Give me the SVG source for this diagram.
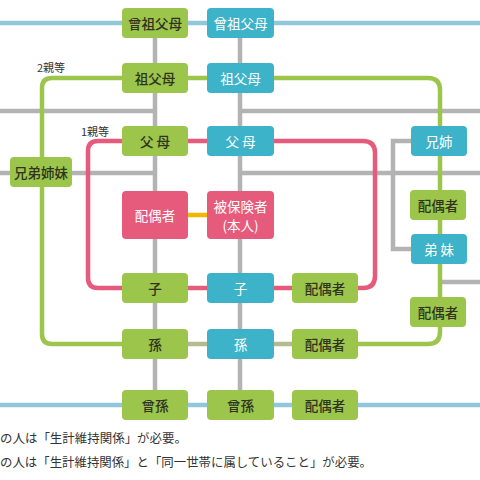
<svg xmlns="http://www.w3.org/2000/svg" width="480" height="480" viewBox="0 0 480 480">
<style>
text{font-family:"Noto Sans CJK JP","Noto Sans",sans-serif;text-anchor:middle;dominant-baseline:central;}
.g{fill:#9cc54b}
.b{fill:#3db3c9}
.p{fill:#e65a7c}
.tg{fill:#2f3320;font-size:13.5px;font-weight:500}
.tw{fill:#ffffff;font-size:13.5px}
.ln{fill:none;stroke-width:4.5;stroke-linecap:butt}
.gray{stroke:#b3b3b3}
.lb{stroke:#92c6da}
.lg{stroke:#9cc54b}
.lp{stroke:#e65a7c}
.ly{stroke:#f2b705}
.lo{stroke:#b2bb8e}
.lbl{font-size:11px;fill:#333;text-anchor:start}
.note{font-size:12.5px;fill:#333;text-anchor:start;dominant-baseline:auto}
</style>
<rect width="480" height="480" fill="#ffffff"/>
<g id="connectors">
<path class="ln lb" d="M0 23 H480"/>
<path class="ln lb" d="M0 405 H480"/>
<path class="ln gray" d="M155 23 V405 M240 23 V405"/>
<path class="ln gray" d="M0 111 H155 M240 111 H480"/>
<path class="ln gray" d="M0 173 H155 M240 173 H480"/>
<path class="ln gray" d="M440 282 H480"/>
<path class="ln gray" d="M411 141 H393 V249 H411"/>
<path class="ln lg" d="M240 78 H52 Q42 78 42 88 V334 Q42 344 52 344 H122"/>
<path class="ln lg" d="M240 78 H428 Q440 78 440 90 V332 Q440 344 428 344 H358"/>
<path class="ln lp" d="M240 141 H98 Q88 141 88 151 V278 Q88 288 98 288 H240"/>
<path class="ln lp" d="M240 141 H363 Q375 141 375 153 V276 Q375 288 363 288 H240"/>
<path class="ln ly" d="M188 215 H207"/>
<path class="ln lo" d="M188 344 H207 M274 344 H292"/>
</g>
<text class="lbl" x="37" y="67">2親等</text>
<text class="lbl" x="81" y="131">1親等</text>
<g id="n-sosofubo-g"><rect class="g" x="122" y="8" width="66" height="30" rx="4"/><text class="tg" x="155" y="23">曾祖父母</text></g>
<g id="n-sosofubo-b"><rect class="b" x="207" y="8" width="67" height="30" rx="4"/><text class="tw" x="240.5" y="23">曾祖父母</text></g>
<g id="n-sofubo-g"><rect class="g" x="122" y="63" width="66" height="30" rx="4"/><text class="tg" x="155" y="78">祖父母</text></g>
<g id="n-sofubo-b"><rect class="b" x="207" y="63" width="67" height="30" rx="4"/><text class="tw" x="240.5" y="78">祖父母</text></g>
<g id="n-fubo-g"><rect class="g" x="122" y="126" width="66" height="30" rx="4"/><text class="tg" x="156.5" y="141" letter-spacing="3">父母</text></g>
<g id="n-fubo-b"><rect class="b" x="207" y="126" width="67" height="30" rx="4"/><text class="tw" x="242" y="141" letter-spacing="3">父母</text></g>
<g id="n-kyodai"><rect class="g" x="10" y="157" width="62" height="30" rx="4"/><text class="tg" x="41" y="172" font-size="13">兄弟姉妹</text></g>
<g id="n-haigusha"><rect class="p" x="122" y="191" width="66" height="48" rx="4"/><text class="tw" x="155" y="215">配偶者</text></g>
<g id="n-honnin"><rect class="p" x="207" y="191" width="67" height="48" rx="4"/><text class="tw" x="240.5" y="206">被保険者</text><text class="tw" x="240.5" y="225">(本人)</text></g>
<g id="n-ko-g"><rect class="g" x="122" y="273" width="66" height="30" rx="4"/><text class="tg" x="155" y="288">子</text></g>
<g id="n-ko-b"><rect class="b" x="207" y="273" width="67" height="30" rx="4"/><text class="tw" x="240.5" y="288">子</text></g>
<g id="n-ko-h"><rect class="g" x="292" y="273" width="66" height="30" rx="4"/><text class="tg" x="325" y="288">配偶者</text></g>
<g id="n-mago-g"><rect class="g" x="122" y="329" width="66" height="30" rx="4"/><text class="tg" x="155" y="344">孫</text></g>
<g id="n-mago-b"><rect class="b" x="207" y="329" width="67" height="30" rx="4"/><text class="tw" x="240.5" y="344">孫</text></g>
<g id="n-mago-h"><rect class="g" x="292" y="329" width="66" height="30" rx="4"/><text class="tg" x="325" y="344">配偶者</text></g>
<g id="n-himago-g"><rect class="g" x="122" y="390" width="66" height="30" rx="4"/><text class="tg" x="155" y="405">曾孫</text></g>
<g id="n-himago-b"><rect class="g" x="207" y="390" width="67" height="30" rx="4"/><text class="tg" x="240.5" y="405">曾孫</text></g>
<g id="n-himago-h"><rect class="g" x="292" y="390" width="66" height="30" rx="4"/><text class="tg" x="325" y="405">配偶者</text></g>
<g id="n-ane"><rect class="b" x="411" y="126" width="56" height="30" rx="4"/><text class="tw" x="439" y="141">兄姉</text></g>
<g id="n-ane-h"><rect class="g" x="410" y="190" width="56" height="30" rx="4"/><text class="tg" x="438" y="205" font-size="12.5">配偶者</text></g>
<g id="n-imoto"><rect class="b" x="411" y="234" width="56" height="30" rx="4"/><text class="tw" x="440.5" y="249" letter-spacing="3">弟妹</text></g>
<g id="n-imoto-h"><rect class="g" x="410" y="297" width="56" height="30" rx="4"/><text class="tg" x="438" y="312" font-size="12.5">配偶者</text></g>
<text class="note" x="0" y="443" textLength="187" lengthAdjust="spacingAndGlyphs">の人は「生計維持関係」が必要。</text>
<text class="note" x="0" y="467" textLength="372" lengthAdjust="spacingAndGlyphs">の人は「生計維持関係」と「同一世帯に属していること」が必要。</text>
</svg>
